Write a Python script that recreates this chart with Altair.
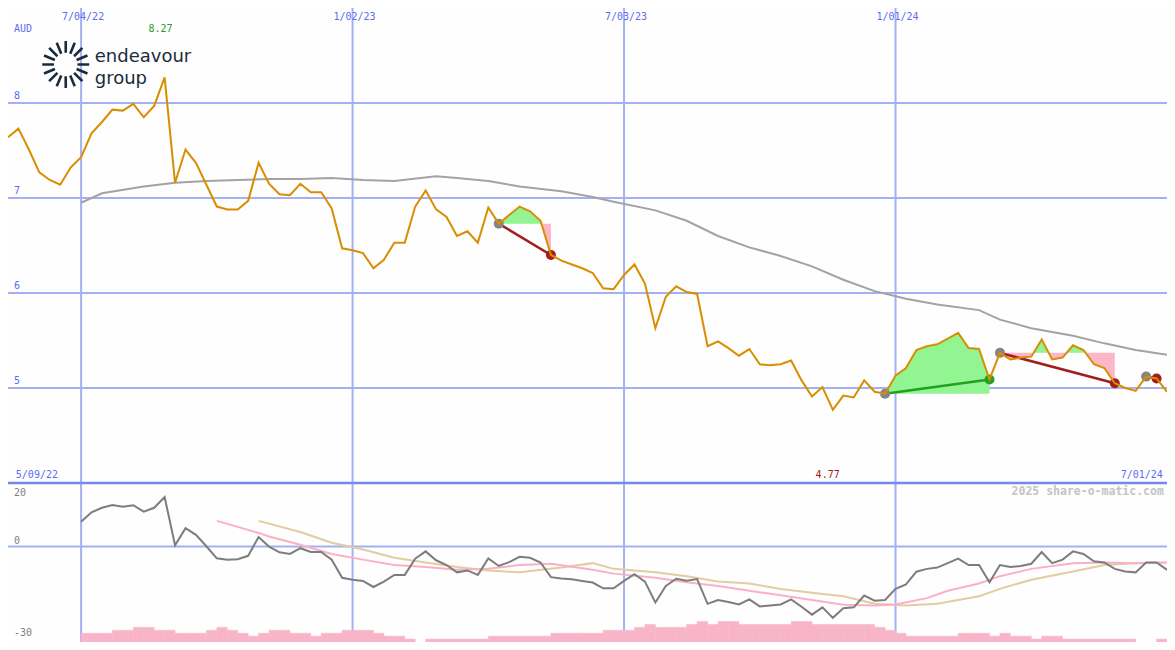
import math
import altair as alt
import pandas as pd

W, H, HU = 1159, 634, 475
XMAX = 111

# weekly closing price, index 0..111
price = [7.64, 7.73, 7.51, 7.27, 7.19, 7.14, 7.32, 7.43, 7.68, 7.80,
         7.93, 7.92, 7.99, 7.85, 7.97, 8.27, 7.16, 7.51, 7.37, 7.14,
         6.91, 6.88, 6.88, 6.97, 7.37, 7.15, 7.04, 7.03, 7.15, 7.06,
         7.06, 6.89, 6.47, 6.45, 6.42, 6.26, 6.35, 6.53, 6.53, 6.91,
         7.08, 6.88, 6.80, 6.60, 6.65, 6.53, 6.90, 6.73, 6.82, 6.91,
         6.86, 6.76, 6.40, 6.34, 6.30, 6.26, 6.21, 6.05, 6.04, 6.19,
         6.30, 6.10, 5.63, 5.96, 6.07, 6.01, 5.99, 5.44, 5.49, 5.42,
         5.34, 5.41, 5.25, 5.24, 5.25, 5.29, 5.08, 4.91, 5.01, 4.77,
         4.92, 4.90, 5.08, 4.96, 4.94, 5.13, 5.21, 5.40, 5.44, 5.46,
         5.52, 5.58, 5.42, 5.41, 5.09, 5.37, 5.30, 5.32, 5.33, 5.51,
         5.30, 5.32, 5.45, 5.40, 5.25, 5.21, 5.05, 5.00, 4.97, 5.12,
         5.10, 4.96]

# long moving average (upper panel)
ma_idx = [7, 9, 13, 16, 19, 22, 25, 28, 31, 34, 37, 41, 43, 46, 49, 53, 56, 58, 62, 65,
          68, 71, 74, 77, 80, 83, 86, 89, 93, 95, 98, 102, 105, 108, 111]
ma_val = [6.95, 7.05, 7.12, 7.16, 7.18, 7.19, 7.20, 7.20, 7.21, 7.19, 7.18, 7.23, 7.21, 7.18,
          7.12, 7.07, 7.01, 6.96, 6.87, 6.76, 6.60, 6.48, 6.39, 6.28, 6.14, 6.02, 5.94, 5.88,
          5.82, 5.72, 5.63, 5.55, 5.47, 5.40, 5.35]

# momentum oscillator (lower panel), index 7..111
mom_start = 7
momentum = [7.8, 10.8, 12.2, 13.1, 12.5, 13.0, 11.0, 12.2, 15.6,
            0.4, 5.8, 3.7, 0.1, -3.7, -4.1, -4.0, -2.9, 3.0, 0.0,
            -1.8, -2.3, -0.5, -1.7, -1.7, -4.1, -9.8, -10.4, -10.8, -12.7,
            -11.0, -8.9, -8.9, -3.8, -1.5, -4.3, -5.8, -8.1, -7.5, -8.9,
            -3.7, -6.1, -4.9, -3.2, -3.5, -5.0, -9.6, -10.0, -10.3, -10.8,
            -11.3, -13.1, -13.1, -10.8, -8.7, -11.0, -17.6, -12.4, -10.1, -10.7,
            -10.2, -18.0, -16.8, -17.4, -18.2, -16.6, -18.8, -18.5, -18.2, -16.6,
            -18.9, -21.4, -19.1, -22.4, -19.4, -19.1, -15.4, -17.0, -16.8, -13.3,
            -11.9, -7.9, -7.0, -6.6, -5.2, -3.8, -5.8, -5.8, -11.2, -5.8,
            -6.4, -6.1, -5.4, -1.7, -5.2, -4.1, -1.5, -2.3, -4.6, -5.0,
            -7.0, -7.8, -8.1, -5.0, -5.0, -7.3]

pink_idx = [20, 22, 24, 25, 28, 31, 34, 37, 40, 43, 46, 49, 52, 56, 58, 62, 65, 68, 71, 74,
            77, 80, 83, 85, 88, 90, 93, 95, 98, 102, 105, 108, 111]
pink_val = [8.1, 6.2, 4.3, 3.2, 0.6, -2.3, -4.1, -5.8, -6.4, -7.3, -7.0, -5.8, -5.4, -7.3,
            -8.5, -9.8, -11.2, -12.4, -13.9, -15.3, -16.8, -18.3, -18.5, -18.2, -16.2, -13.9,
            -11.6, -9.3, -7.0, -5.2, -5.0, -5.2, -5.0]

tan_idx = [24, 28, 31, 34, 37, 40, 43, 46, 49, 53, 56, 58, 62, 65, 68, 71, 74, 77, 80, 83,
           86, 89, 93, 95, 98, 102, 105, 108, 111]
tan_val = [8.1, 4.6, 1.2, -0.9, -3.5, -5.0, -6.4, -7.5, -8.1, -6.6, -5.2, -7.0, -8.1, -9.3,
           -11.0, -11.6, -13.3, -14.5, -15.6, -18.0, -18.5, -18.0, -15.6, -13.3, -10.4, -7.8,
           -5.8, -5.2, -5.0]

# volume bars (relative heights), index 7..110
vol_start = 7
volume = [9, 9, 9, 12, 12, 15, 15, 12, 12, 9, 9, 9, 12, 15, 12, 9, 6, 9, 12, 12,
          9, 9, 6, 9, 9, 12, 12, 12, 9, 6, 6, 3, 0, 3, 3, 3, 3, 3, 3, 6,
          6, 6, 6, 6, 6, 9, 9, 9, 9, 9, 12, 12, 12, 15, 18, 15, 15, 15, 18, 21,
          18, 21, 21, 18, 18, 18, 18, 18, 21, 21, 18, 18, 18, 18, 18, 18, 15, 12, 9, 6,
          6, 6, 6, 6, 9, 9, 9, 6, 9, 6, 6, 3, 6, 6, 3, 3, 3, 3, 3, 3,
          3, 0, 0, 3]

# trades: (entry index, exit index)
trades = [(47, 52), (84, 94), (95, 106), (109, 110)]

date_idx = [7, 33, 59, 85]
date_lbl = ["7/04/22", "1/02/23", "7/03/23", "1/01/24"]
ytick_val = [8, 7, 6, 5]
ytick_lbl = ["8", "7", "6", "5"]

BLUE_TXT = "#5d6cf0"
GRID = "#a3b1f4"
SEP = "#7886f0"


def xs(field):
    return alt.X(field, type="quantitative",
                 scale=alt.Scale(domain=[0, XMAX], nice=False, zero=False), axis=None)


def yu(field):
    return alt.Y(field, type="quantitative",
                 scale=alt.Scale(domain=[4, 9], range=[HU, 0], nice=False, zero=False), axis=None)


def yl(field):
    return alt.Y(field, type="quantitative",
                 scale=alt.Scale(domain=[-30, 20], range=[H, HU], nice=False, zero=False), axis=None)


def yv(field):
    return alt.Y(field, type="quantitative",
                 scale=alt.Scale(domain=[0, 163], range=[H, HU], nice=False, zero=False), axis=None)


def text_layer(df, yfn, color, size=10, align="left", baseline="middle",
               font="DejaVu Sans Mono", weight="normal", dx=0, dy=0):
    return alt.Chart(df).mark_text(
        align=align, baseline=baseline, font=font, fontSize=size,
        fontWeight=weight, color=color, dx=dx, dy=dy
    ).encode(x=xs("x"), y=yfn("y"), text="t:N")


price_df = pd.DataFrame({"i": list(range(len(price))), "p": price})
ma_df = pd.DataFrame({"i": ma_idx, "v": ma_val})
mom_df = pd.DataFrame({"i": [mom_start + k for k in range(len(momentum))], "v": momentum})
pink_df = pd.DataFrame({"i": pink_idx, "v": pink_val})
tan_df = pd.DataFrame({"i": tan_idx, "v": tan_val})
vol_df = pd.DataFrame({"i": [vol_start + k for k in range(len(volume))], "v": volume})
vol_df["i2"] = vol_df["i"] + 1
vol_df = vol_df[vol_df["v"] > 0]

# trade fill polygons (price vs entry level, with crossing points)
rows = []
for t, (a, b) in enumerate(trades):
    lvl = price[a]
    for i in range(a, b):
        p0, p1 = price[i], price[i + 1]
        rows.append((t, float(i), p0, lvl))
        if (p0 - lvl) * (p1 - lvl) < 0:
            f = (lvl - p0) / (p1 - p0)
            rows.append((t, i + f, lvl, lvl))
    rows.append((t, float(b), price[b], lvl))
fill_df = pd.DataFrame(rows, columns=["t", "i", "p", "lvl"])
fill_df["gtop"] = fill_df[["p", "lvl"]].max(axis=1)
fill_df["pbot"] = fill_df[["p", "lvl"]].min(axis=1)

tline_rows, entry_rows, exit_rows = [], [], []
for t, (a, b) in enumerate(trades):
    col = "#22a022" if price[b] > price[a] else "#a31d1d"
    tline_rows += [(t, a, price[a], col), (t, b, price[b], col)]
    entry_rows.append((a, price[a]))
    exit_rows.append((b, price[b], col))
tline_df = pd.DataFrame(tline_rows, columns=["t", "i", "p", "c"])
entry_df = pd.DataFrame(entry_rows, columns=["i", "p"])
exit_df = pd.DataFrame(exit_rows, columns=["i", "p", "c"])

layers = []

# grid
layers.append(alt.Chart(pd.DataFrame({"x": date_idx})).mark_rule(color=GRID, strokeWidth=2).encode(
    x=xs("x"), y=alt.value(0), y2=alt.value(H)))
layers.append(alt.Chart(pd.DataFrame({"y": ytick_val})).mark_rule(color=GRID, strokeWidth=2).encode(
    y=yu("y")))
layers.append(alt.Chart(pd.DataFrame({"y": [0]})).mark_rule(color=GRID, strokeWidth=2).encode(
    y=yl("y")))
layers.append(alt.Chart(pd.DataFrame({"y": [4]})).mark_rule(color=SEP, strokeWidth=2.5).encode(
    y=yu("y")))

# volume
layers.append(alt.Chart(vol_df).mark_rect(color="#f9b5c8", stroke="#f9b5c8", strokeWidth=0.5).encode(
    x=xs("i"), x2="i2", y=yv("v"), y2=alt.datum(0)))

# trade fills
layers.append(alt.Chart(fill_df).mark_area(color="#92f592", opacity=1).encode(
    x=xs("i"), y=yu("gtop"), y2="lvl", detail="t:N"))
layers.append(alt.Chart(fill_df).mark_area(color="#fbb6c8", opacity=1).encode(
    x=xs("i"), y=yu("lvl"), y2="pbot", detail="t:N"))

# moving average upper
layers.append(alt.Chart(ma_df).mark_line(color="#a3a3a3", strokeWidth=2).encode(
    x=xs("i"), y=yu("v")))

# lower lines
layers.append(alt.Chart(tan_df).mark_line(color="#e4cba0", strokeWidth=2).encode(
    x=xs("i"), y=yl("v")))
layers.append(alt.Chart(pink_df).mark_line(color="#fbb0c6", strokeWidth=2).encode(
    x=xs("i"), y=yl("v")))
layers.append(alt.Chart(mom_df).mark_line(color="#7d7d7d", strokeWidth=2).encode(
    x=xs("i"), y=yl("v")))

# trade lines & markers
layers.append(alt.Chart(tline_df).mark_line(strokeWidth=2.5).encode(
    x=xs("i"), y=yu("p"), detail="t:N", color=alt.Color("c:N", scale=None)))
layers.append(alt.Chart(entry_df).mark_circle(size=100, color="#858585", opacity=1).encode(
    x=xs("i"), y=yu("p")))
layers.append(alt.Chart(exit_df).mark_circle(size=100, opacity=1).encode(
    x=xs("i"), y=yu("p"), color=alt.Color("c:N", scale=None)))

# price
layers.append(alt.Chart(price_df).mark_line(color="#d88e00", strokeWidth=2).encode(
    x=xs("i"), y=yu("p")))

# texts
layers.append(text_layer(pd.DataFrame({"x": date_idx, "y": [8.91] * 4, "t": date_lbl}),
                         yu, BLUE_TXT, align="center", dx=2))
layers.append(text_layer(pd.DataFrame({"x": [0.57], "y": [8.78], "t": ["AUD"]}), yu, BLUE_TXT))
layers.append(text_layer(pd.DataFrame({"x": [14.6], "y": [8.78], "t": ["8.27"]}), yu, "#2a9a2a",
                         align="center"))
layers.append(text_layer(pd.DataFrame({"x": [0.57] * 4, "y": ytick_val, "t": ytick_lbl}), yu, BLUE_TXT,
                         baseline="bottom", dy=-2))
layers.append(text_layer(pd.DataFrame({"x": [0.75], "y": [4.082], "t": ["5/09/22"]}), yu, BLUE_TXT))
layers.append(text_layer(pd.DataFrame({"x": [78.5], "y": [4.082], "t": ["4.77"]}), yu, "#a01c1c",
                         align="center"))
layers.append(text_layer(pd.DataFrame({"x": [110.6], "y": [4.082], "t": ["7/01/24"]}), yu, BLUE_TXT,
                         align="right"))
layers.append(text_layer(pd.DataFrame({"x": [0.57] * 3, "y": [17.0, 1.8, -27.2], "t": ["20", "0", "-30"]}),
                         yl, "#808080"))
layers.append(text_layer(pd.DataFrame({"x": [110.7], "y": [17.2], "t": ["2025 share-o-matic.com"]}),
                         yl, "#c4c4c4", size=11.5, weight="bold", align="right"))

# logo
segs = []
for k in range(16):
    a = 2 * math.pi * k / 16
    c, s = math.cos(a), math.sin(a)
    segs.append(f"M{0.5 * c:.3f},{0.5 * s:.3f}L{c:.3f},{s:.3f}")
sun_path = "".join(segs)
layers.append(alt.Chart(pd.DataFrame({"x": [5.53], "y": [8.405]})).mark_point(
    shape=sun_path, size=2209, filled=False, stroke="#1b2b3b", strokeWidth=2.6, opacity=1
).encode(x=xs("x"), y=yu("y")))
layers.append(text_layer(pd.DataFrame({"x": [8.31, 8.31], "y": [8.43, 8.205], "t": ["endeavour", "group"]}),
                         yu, "#1b2b3b", size=18, baseline="alphabetic", font="DejaVu Sans"))

chart = alt.layer(*layers).resolve_scale(y="independent").properties(
    width=W, height=H, padding=0, background="#fdfefd",
    autosize=alt.AutoSizeParams(type="none")
).configure_view(strokeWidth=0)

chart.save("out.html", embed_options={"renderer": "svg", "actions": False})
